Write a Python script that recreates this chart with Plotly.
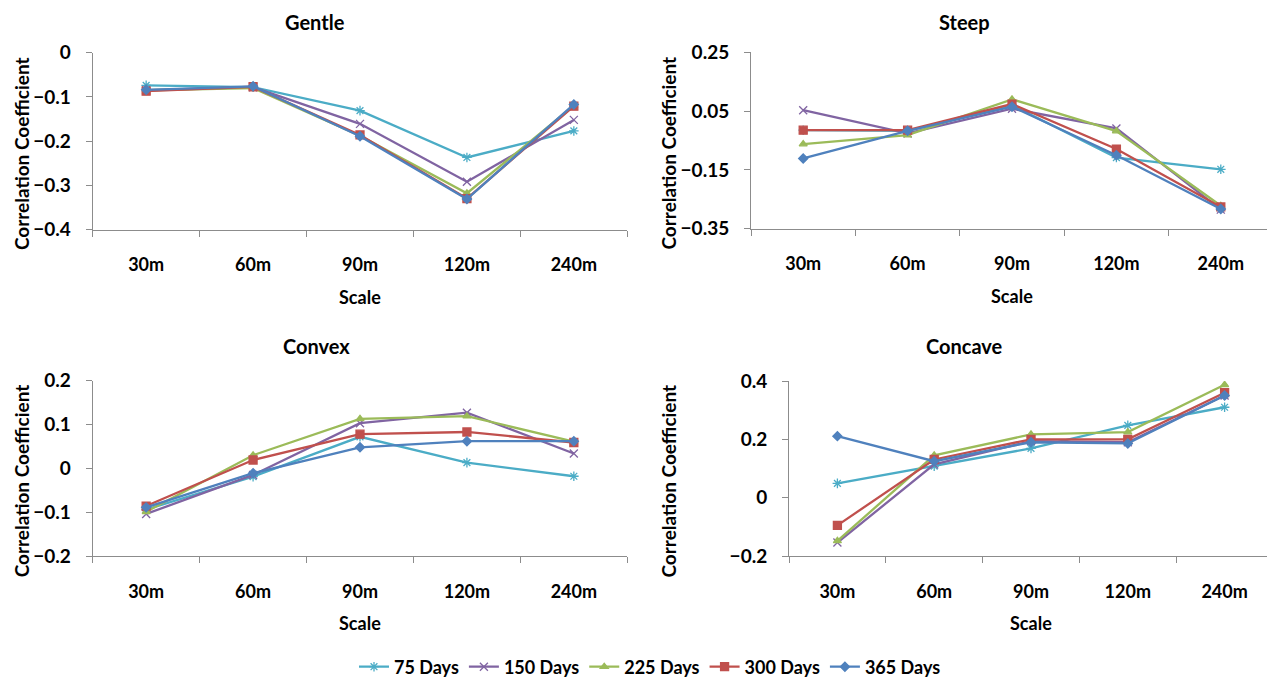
import plotly.graph_objects as go

scales = ["30m", "60m", "90m", "120m", "240m"]
series_names = ["75 Days", "150 Days", "225 Days", "300 Days", "365 Days"]

gentle = {
    "75 Days":  [-0.074, -0.078, -0.131, -0.237, -0.177],
    "150 Days": [-0.085, -0.078, -0.161, -0.292, -0.152],
    "225 Days": [-0.085, -0.080, -0.188, -0.318, -0.120],
    "300 Days": [-0.087, -0.077, -0.186, -0.330, -0.121],
    "365 Days": [-0.084, -0.076, -0.189, -0.331, -0.117],
}
steep = {
    "75 Days":  [-0.015, -0.017, 0.070, -0.108, -0.148],
    "150 Days": [0.053, -0.026, 0.058, -0.009, -0.285],
    "225 Days": [-0.062, -0.032, 0.090, -0.018, -0.272],
    "300 Days": [-0.015, -0.015, 0.074, -0.079, -0.276],
    "365 Days": [-0.111, -0.017, 0.065, -0.100, -0.283],
}
convex = {
    "75 Days":  [-0.094, -0.019, 0.072, 0.013, -0.018],
    "150 Days": [-0.104, -0.015, 0.103, 0.127, 0.034],
    "225 Days": [-0.099, 0.030, 0.113, 0.119, 0.061],
    "300 Days": [-0.086, 0.019, 0.078, 0.083, 0.059],
    "365 Days": [-0.089, -0.011, 0.048, 0.062, 0.062],
}
concave = {
    "75 Days":  [0.049, 0.108, 0.169, 0.248, 0.310],
    "150 Days": [-0.154, 0.114, 0.194, 0.190, 0.350],
    "225 Days": [-0.148, 0.145, 0.217, 0.225, 0.387],
    "300 Days": [-0.095, 0.131, 0.200, 0.200, 0.360],
    "365 Days": [0.211, 0.125, 0.190, 0.186, 0.350],
}

colors = {"75 Days": "#4BACC6", "150 Days": "#8064A2", "225 Days": "#9BBB59",
          "300 Days": "#C0504D", "365 Days": "#4F81BD"}
symbols = {"75 Days": "asterisk-open", "150 Days": "x-thin-open", "225 Days": "triangle-up",
           "300 Days": "square", "365 Days": "diamond"}
msizes = {"75 Days": 8, "150 Days": 8, "225 Days": 7, "300 Days": 8, "365 Days": 7}

W, H = 1275, 681
OFFX, OFFY = 8, 8   # page body margin
FONT = "Lato"

def fx(px):
    return (px - OFFX) / W

def fy(py):
    return 1 - (py - OFFY) / H

panels = [
    # title, data, x px (left,right), y px (top,bottom), yrange, dtick, tick0, axes, title pos, ytitle x
    ("Gentle", gentle, (92.7, 627.3), (52.7, 229.5), (-0.4, 0.0), 0.1, -0.4, "x", "y", (315, 22), 21),
    ("Steep", steep, (751, 1273), (52.3, 228.7), (-0.35, 0.25), 0.2, -0.35, "x2", "y2", (964, 22), 668),
    ("Convex", convex, (92.7, 627.3), (380.7, 556), (-0.2, 0.2), 0.1, -0.2, "x3", "y3", (316, 346), 21),
    ("Concave", concave, (789, 1273), (381, 556), (-0.2, 0.4), 0.2, -0.2, "x4", "y4", (964, 346), 668),
]

fig = go.Figure()
layout = {}
annotations = []
axis_col = "#8c8c8c"

for i, (title, data, (xl, xr), (yt, yb), yr, dt, t0, xa, ya, (tx, ty), ytx) in enumerate(panels):
    for name in series_names:
        fig.add_trace(go.Scatter(
            x=scales, y=data[name], name=name, mode="lines+markers",
            line=dict(color=colors[name], width=2.3),
            marker=dict(symbol=symbols[name], size=msizes[name], color=colors[name],
                        line=dict(color=colors[name], width=1.3)),
            xaxis=xa, yaxis=ya, showlegend=(i == 0), legendgroup=name,
        ))
    suffix = "" if i == 0 else str(i + 1)
    layout["xaxis" + suffix] = dict(
        domain=[fx(xl), fx(xr)], anchor=ya, type="category",
        categoryorder="array", categoryarray=scales,
        range=[-0.5, 4.5], showline=True, linecolor=axis_col, linewidth=1,
        ticks="outside", tickson="boundaries", ticklen=6, tickcolor=axis_col,
        showgrid=False, zeroline=False, ticklabelstandoff=19, automargin=False,
        tickfont=dict(family=FONT, size=18, color="black", weight="bold"),
        fixedrange=True,
    )
    layout["yaxis" + suffix] = dict(
        domain=[fy(yb), fy(yt)], anchor=xa, range=list(yr),
        tick0=t0, dtick=dt, showline=True, linecolor=axis_col, linewidth=1,
        ticks="outside", ticklen=6, tickcolor=axis_col,
        showgrid=False, zeroline=False, ticklabelstandoff=11, automargin=False,
        tickfont=dict(family=FONT, size=19, color="black", weight="bold"),
        fixedrange=True,
    )
    cx = (xl + xr) / 2
    annotations.append(dict(text=title, x=fx(tx), y=fy(ty), xref="paper", yref="paper",
                            showarrow=False, xanchor="center", yanchor="middle",
                            font=dict(family=FONT, size=20, color="black", weight="bold")))
    annotations.append(dict(text="Scale", x=fx(cx), y=fy(yb + 67), xref="paper", yref="paper",
                            showarrow=False, xanchor="center", yanchor="middle",
                            font=dict(family=FONT, size=18, color="black", weight="bold")))
    annotations.append(dict(text="Correlation Coefficient", x=fx(ytx), y=fy((yt + yb) / 2 + 13),
                            xref="paper", yref="paper", showarrow=False, textangle=-90,
                            xanchor="center", yanchor="middle",
                            font=dict(family=FONT, size=19, color="black", weight="bold")))

fig.update_layout(
    template="none",
    width=W, height=H,
    margin=dict(l=0, r=0, t=0, b=0, pad=0),
    paper_bgcolor="white", plot_bgcolor="white",
    annotations=annotations,
    legend=dict(orientation="h", x=fx(650), xanchor="center", y=fy(667), yanchor="middle",
                font=dict(family=FONT, size=18, color="black", weight="bold"),
                itemwidth=30, tracegroupgap=0, bgcolor="rgba(0,0,0,0)"),
    **layout,
)

fig.write_html("out.html")
